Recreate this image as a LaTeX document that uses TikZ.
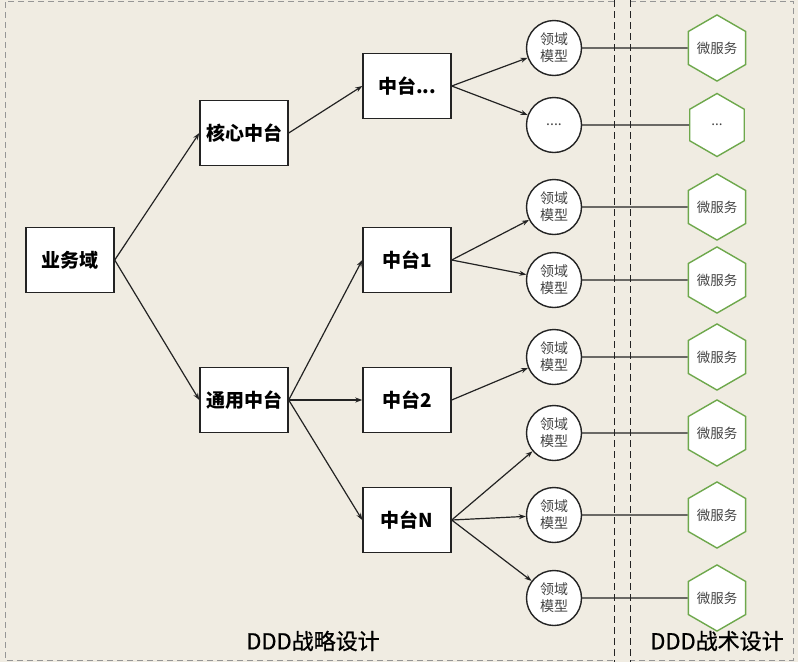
\documentclass[tikz,border=0pt]{standalone}
\usepackage{fontspec}
\setmainfont{Noto Sans CJK SC}
\newfontfamily\capfont[UprightFeatures={FakeBold=0.8}]{Noto Sans CJK SC}
\usetikzlibrary{arrows.meta,shapes.geometric}
\definecolor{bg}{RGB}{240,236,226}
\definecolor{framegray}{RGB}{150,150,150}
\definecolor{hexgreen}{RGB}{110,168,76}
\definecolor{ink}{RGB}{35,35,35}
\begin{document}
\begin{tikzpicture}[x=1pt,y=-1pt,
  box/.style={draw=ink,line width=1.4pt,fill=white,minimum width=88pt,minimum height=65pt,inner sep=0pt,font=\fontsize{19}{22}\selectfont\bfseries},
  model/.style={circle,draw=ink,line width=1.4pt,fill=white,minimum size=55pt,inner sep=0pt,align=center,text=ink!85,font=\fontsize{14}{17}\selectfont},
  svc/.style={regular polygon,regular polygon sides=6,shape border rotate=30,draw=hexgreen,line width=1.4pt,fill=white,minimum size=63pt,inner sep=0pt,text=ink!85,font=\fontsize{13.5}{16}\selectfont},
  arr/.style={draw=ink,line width=1.2pt,-{Stealth[length=7pt,width=5pt]}},
  link/.style={draw=ink,line width=1.2pt},
  gframe/.style={draw=framegray,line width=0.9pt,dash pattern=on 6pt off 4pt},
  bframe/.style={draw=ink,line width=0.9pt,dash pattern=on 7pt off 4pt},
  caption/.style={font=\capfont\fontsize{22}{26}\selectfont,text=black}
]
\fill[bg] (0,0) rectangle (798,662);
\useasboundingbox (0,0) rectangle (798,662);

% strategic design panel
\draw[gframe] (614,1) -- (5,1) -- (5,660) -- (614,660);
\draw[bframe] (614,0) -- (614,662);
% tactical design panel
\draw[gframe] (630,1) -- (793,1) -- (793,660) -- (630,660);
\draw[bframe] (630,0) -- (630,662);

% domain hierarchy
\node[box] (yw) at (70,260) {业务域};
\node[box] (hx) at (244,133) {核心中台};
\node[box] (ty) at (244,400) {通用中台};
\node[box] (m0) at (407,86) {中台...};
\node[box] (m1) at (407,260) {中台1};
\node[box] (m2) at (407,400) {中台2};
\node[box] (mn) at (407,520) {中台N};

% domain models
\node[model] (c1) at (554,48) {领域\\模型};
\node[model] (c2) at (554,125) {....};
\node[model] (c3) at (554,207) {领域\\模型};
\node[model] (c4) at (554,280) {领域\\模型};
\node[model] (c5) at (554,357) {领域\\模型};
\node[model] (c6) at (554,433) {领域\\模型};
\node[model] (c7) at (554,515) {领域\\模型};
\node[model] (c8) at (554,598) {领域\\模型};

% microservices
\node[svc] (s1) at (717,48) {微服务};
\node[svc] (s2) at (717,125) {...};
\node[svc] (s3) at (717,207) {微服务};
\node[svc] (s4) at (717,280) {微服务};
\node[svc] (s5) at (717,357) {微服务};
\node[svc] (s6) at (717,433) {微服务};
\node[svc] (s7) at (717,515) {微服务};
\node[svc] (s8) at (717,598) {微服务};

% arrows
\draw[arr] (yw.east) -- (hx.west);
\draw[arr] (yw.east) -- (ty.west);
\draw[arr] (hx.east) -- (m0.west);
\draw[arr] (ty.east) -- (m1.west);
\draw[arr] (ty.east) -- (m2.west);
\draw[arr] (ty.east) -- (mn.west);
\draw[arr] (m0.east) -- (c1);
\draw[arr] (m0.east) -- (c2);
\draw[arr] (m1.east) -- (c3);
\draw[arr] (m1.east) -- (c4);
\draw[arr] (m2.east) -- (c5);
\draw[arr] (mn.east) -- (c6);
\draw[arr] (mn.east) -- (c7);
\draw[arr] (mn.east) -- (c8);

% model to service links
\foreach \i in {1,...,8} {
  \draw[link] (c\i.east) -- (s\i.west);
}

% panel captions
\node[caption] (cap1) at (313,641) {DDD战略设计};
\node[caption] (cap2) at (717,641) {DDD战术设计};
\end{tikzpicture}
\end{document}
